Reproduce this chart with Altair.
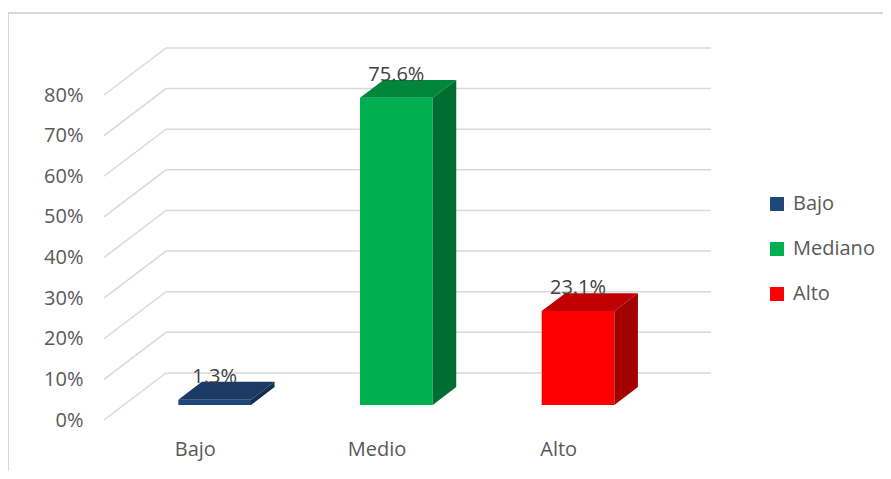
import json
import altair as alt
import pandas as pd

# ---- data ----
categories = ["Bajo", "Medio", "Alto"]
legend_labels = ["Bajo", "Mediano", "Alto"]
values = [1.3, 75.6, 23.1]          # percent
y_ticks = [0, 10, 20, 30, 40, 50, 60, 70, 80]

front_colors = ["#1F477A", "#00B050", "#FF0000"]
top_colors = ["#1B3A64", "#00873D", "#C00000"]
side_colors = ["#142E52", "#006E30", "#A30000"]

# ---- oblique 3D projection constants (style) ----
DXW = 0.341      # horizontal shift of the full depth, in category units
DYW = 11.57      # vertical shift of the full depth, in % units
T1, T2 = 0.32, 0.70   # depth range occupied by the bars
HALF = 0.2            # half bar width, category units
X_MIN, X_MAX = -0.5, len(categories) - 0.5 + DXW
Y_MAX = y_ticks[-1] + DYW

FONT = "Open Sans"

front_rows, top_rows, side_rows, label_rows = [], [], [], []
for i, (cat, ser, v) in enumerate(zip(categories, legend_labels, values)):
    front_rows.append(dict(cat=cat, serie=ser,
                           x=i - HALF + T1 * DXW, x2=i + HALF + T1 * DXW,
                           y=T1 * DYW, y2=v + T1 * DYW))
    for t in (T1, T2):
        top_rows.append(dict(cat=cat, fill=top_colors[i], y=v + t * DYW,
                             x=i - HALF + t * DXW, x2=i + HALF + t * DXW))
        side_rows.append(dict(cat=cat, fill=side_colors[i], x=i + HALF + t * DXW,
                              y=t * DYW, y2=v + t * DYW))
    label_rows.append(dict(cat=cat, x=i + T1 * DXW, y=v + T2 * DYW,
                           label=f"{v:.1f}%"))

grid_rows = []
for v in y_ticks:
    # back wall line
    grid_rows.append(dict(x=X_MIN + DXW, x2=X_MAX, y=v + DYW, y2=v + DYW))
    # side wall diagonal
    grid_rows.append(dict(x=X_MIN, x2=X_MIN + DXW, y=v, y2=v + DYW))

front_df = pd.DataFrame(front_rows)
top_df = pd.DataFrame(top_rows)
side_df = pd.DataFrame(side_rows)
label_df = pd.DataFrame(label_rows)
grid_df = pd.DataFrame(grid_rows)

cat_expr = json.dumps(categories) + "[datum.value]"

x_axis = alt.Axis(values=list(range(len(categories))), labelExpr=cat_expr,
                  domain=False, ticks=False, grid=False, title=None,
                  labelFont=FONT, labelFontSize=20, labelColor="#595959",
                  labelPadding=19)
y_axis = alt.Axis(values=y_ticks, labelExpr="datum.value + '%'",
                  domain=False, ticks=False, grid=False, title=None,
                  labelFont=FONT, labelFontSize=20, labelColor="#595959",
                  labelPadding=21)

X = lambda: alt.X("x:Q", scale=alt.Scale(domain=[X_MIN, X_MAX], nice=False, zero=False), axis=x_axis)
Y = lambda: alt.Y("y:Q", scale=alt.Scale(domain=[0, Y_MAX], nice=False, zero=False), axis=y_axis)

grid = alt.Chart(grid_df).mark_rule(color="#D9D9D9", strokeWidth=1.5).encode(
    x=X(), x2="x2:Q", y=Y(), y2="y2:Q")

front = alt.Chart(front_df).mark_rect().encode(
    x=X(), x2="x2:Q", y=Y(), y2="y2:Q",
    color=alt.Color("serie:N",
                    scale=alt.Scale(domain=legend_labels, range=front_colors),
                    legend=alt.Legend(title=None, orient="none", legendX=663, legendY=146,
                                      symbolType="square", symbolSize=196,
                                      symbolStrokeWidth=0, labelFont=FONT,
                                      labelFontSize=20, labelColor="#595959",
                                      labelOffset=6, rowPadding=25, padding=0)))

top = alt.Chart(top_df).mark_area(orient="horizontal").encode(
    y=Y(), x=X(), x2="x2:Q",
    color=alt.Color("fill:N", scale=None), detail="cat:N")

side = alt.Chart(side_df).mark_area().encode(
    x=X(), y=Y(), y2="y2:Q",
    color=alt.Color("fill:N", scale=None), detail="cat:N")

labels = alt.Chart(label_df).mark_text(font=FONT, fontSize=20, color="#404040",
                                       baseline="alphabetic", align="center", dy=1).encode(
    x=X(), y=Y(), text="label:N")

border_df = pd.DataFrame({"k": [0]})
border_left = alt.Chart(border_df).mark_rule(color="#D9D9D9", strokeWidth=2).encode(
    x=alt.value(-96), x2=alt.value(-96), y=alt.value(-35), y2=alt.value(460))
border_top = alt.Chart(border_df).mark_rule(color="#D9D9D9", strokeWidth=2).encode(
    x=alt.value(-96), x2=alt.value(780), y=alt.value(-35), y2=alt.value(-35))

chart = alt.layer(border_left, border_top, grid, front, top, side, labels).properties(
    width=607, height=372,
    padding={"left": 96, "top": 40, "right": 172, "bottom": 51},
    autosize=alt.AutoSizeParams(type="none"),
    background="white",
).configure_view(stroke=None)

chart.save("out.html", embed_options={"renderer": "svg", "actions": False})
